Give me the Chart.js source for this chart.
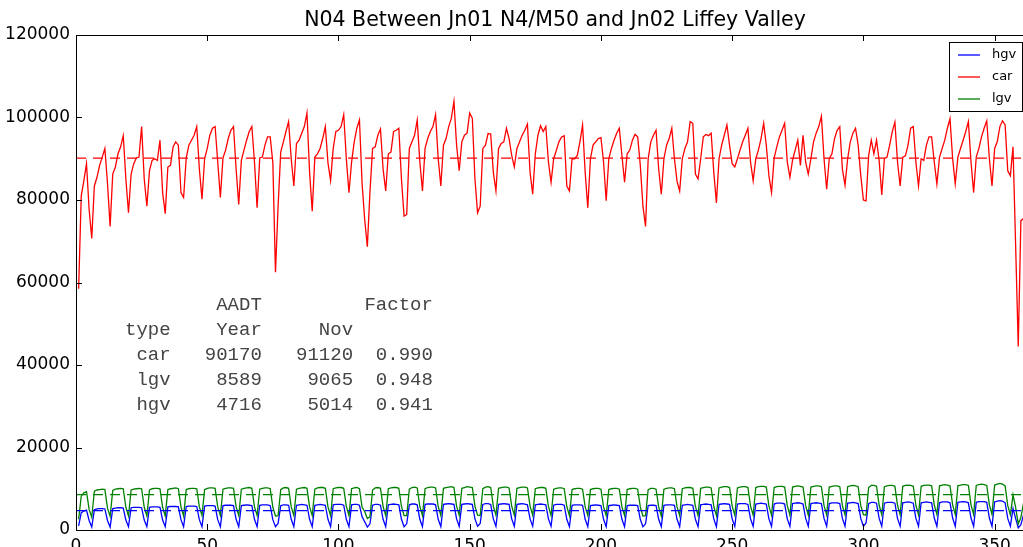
<!DOCTYPE html>
<html>
<head>
<meta charset="utf-8">
<script src="https://cdn.jsdelivr.net/npm/chart.js@4.4.1/dist/chart.umd.min.js"></script>
<style>
  html, body { margin: 0; padding: 0; background: #fff; overflow: hidden; }
  #wrap { width: 1050px; height: 560px; }
</style>
</head>
<body>
<div id="wrap"><canvas id="chart" width="1050" height="560"></canvas></div>
<script>
const chartTitle = 'N04 Between Jn01 N4/M50 and Jn02 Liffey Valley';

// tick labels
const xTicks = [0, 50, 100, 150, 200, 250, 300, 350];
const yTicks = [0, 20000, 40000, 60000, 80000, 100000, 120000];
const xMax = 365;

// AADT table (rows: car, lgv, hgv)
const tableTypes = ['car', 'lgv', 'hgv'];
const aadtYear = [90170, 8589, 4716];
const aadtNov = [91120, 9065, 5014];
const factor = [0.990, 0.948, 0.941];

// daily counts, day 1 = Tue 1 Jan; rows after the first are Mon..Sun weeks
const car = [
  58500, 81000, 84700, 88800, 77700, 70700,
  83400, 85500, 88400, 90400, 92500, 84000, 73600,
  86300, 88000, 91200, 92900, 95600, 85100, 76900,
  86300, 88800, 90200, 90400, 97800, 85100, 78500,
  87100, 89600, 90000, 89600, 94500, 81800, 76700,
  88000, 88400, 92900, 94100, 93300, 81800, 80600,
  90200, 93300, 94500, 95700, 97800, 87500, 80200,
  90000, 92500, 95700, 97400, 97800, 89200, 80600,
  90200, 92100, 94900, 96900, 97800, 87500, 78900,
  89600, 92100, 94500, 96600, 97800, 89200, 78100,
  90200, 90400, 93300, 95300, 95300, 89000, 62500,
  78500, 91600, 94100, 96600, 99000, 90000, 83400,
  93700, 94500, 96200, 97800, 101100, 86700, 77300,
  90400, 91200, 92500, 94900, 97800, 89000, 84700,
  92500, 96600, 96900, 97800, 100700, 90000, 81800,
  89200, 94100, 97400, 99400, 84000, 75200, 68700,
  82000, 92500, 92900, 95700, 97200, 87500, 82200,
  91200, 91600, 96600, 96900, 97400, 85100, 76100,
  76500, 92500, 94100, 95700, 99400, 89200, 82200,
  92500, 94900, 96600, 97800, 100700, 90000, 83400,
  93300, 94900, 97800, 99800, 103900, 93300, 87100,
  94100, 95700, 96200, 101100, 99800, 85100, 76900,
  78500, 92500, 93300, 96100, 96000, 86700, 82200,
  92500, 93700, 94100, 97400, 94900, 90800, 88000,
  92500, 94100, 95700, 96900, 98400, 86700, 81400,
  91200, 95700, 98000, 96600, 97800, 89200, 84300,
  90000, 92000, 94100, 95300, 95600, 83400, 82200,
  90000, 90000, 90800, 94100, 98200, 86700, 78100,
  90000, 93300, 94100, 94900, 95100, 89200, 79800,
  90000, 92500, 94500, 96200, 97400, 90800, 84300,
  91200, 92100, 94500, 95900, 95300, 88400, 78500,
  73600, 90000, 94100, 95700, 96900, 87500, 81400,
  90000, 93300, 94900, 97400, 90000, 84500, 82200,
  90000, 92500, 94100, 99000, 98600, 86300, 85100,
  90000, 95300, 95900, 95600, 96200, 86700, 79300,
  90000, 93300, 95700, 98200, 93300, 88800, 88000,
  90000, 92100, 94100, 95700, 97400, 89200, 84700,
  90000, 92100, 94900, 98600, 93300, 85900, 81800,
  90200, 92900, 95300, 96900, 98600, 89200, 85500,
  89600, 92100, 94500, 88400, 95700, 89200, 86300,
  90000, 94100, 96200, 97800, 100300, 90000, 82600,
  90000, 91200, 94900, 96900, 97800, 87500, 83600,
  90000, 94100, 96200, 97400, 93300, 85900, 80000,
  79800, 90800, 94500, 91200, 94500, 89600, 81200,
  90000, 90400, 93300, 96600, 98900, 89200, 83400,
  90400, 90700, 93300, 97400, 97800, 89200, 83400,
  90000, 89600, 93300, 95300, 95300, 89200, 83900,
  90400, 92500, 94500, 97400, 99700, 90000, 83900,
  90400, 92500, 94500, 96600, 99000, 89200, 81800,
  90400, 92500, 95300, 97400, 99200, 90000, 83400,
  92500, 94100, 97800, 99200, 98200, 87100, 85900,
  92900, 69000, 44500, 75000, 75500, 70000, 66000,
  74000, 71000
];

const hgv = [
  1000, 4200, 4600, 4800, 2300, 700,
  4900, 5100, 5200, 5200, 5100, 2300, 700,
  5200, 5300, 5400, 5400, 5300, 2400, 800,
  5400, 5500, 5500, 5500, 5400, 2400, 800,
  5500, 5600, 5600, 5600, 5500, 2400, 800,
  5600, 5700, 5700, 5700, 5600, 2500, 800,
  5700, 5800, 5800, 5800, 5700, 2500, 800,
  5800, 5900, 5900, 5900, 5800, 2500, 800,
  5900, 6000, 6000, 6000, 5900, 2600, 800,
  5900, 6000, 6100, 6000, 5900, 2600, 800,
  6000, 6100, 6100, 6100, 5900, 2500, 800,
  1600, 5900, 6100, 6100, 6000, 2600, 800,
  6000, 6100, 6200, 6100, 6000, 2600, 800,
  6000, 6100, 6200, 6100, 6000, 2600, 800,
  6100, 6200, 6200, 6200, 6000, 2600, 800,
  6100, 6200, 6200, 6000, 3200, 2000, 700,
  1500, 6000, 6200, 6200, 6000, 2600, 800,
  6100, 6200, 6300, 6200, 6100, 2600, 800,
  1500, 6100, 6300, 6300, 6100, 2600, 800,
  6200, 6300, 6300, 6300, 6100, 2600, 800,
  6200, 6300, 6400, 6300, 6200, 2700, 900,
  6200, 6300, 6400, 6300, 6200, 2700, 900,
  1600, 6200, 6400, 6400, 6200, 2700, 900,
  6200, 6300, 6400, 6300, 6200, 2700, 900,
  6200, 6300, 6400, 6300, 6100, 2700, 900,
  6100, 6200, 6300, 6200, 6100, 2700, 900,
  6000, 6200, 6200, 6200, 6000, 2600, 800,
  6000, 6100, 6100, 6100, 6000, 2600, 800,
  5900, 6000, 6100, 6000, 5900, 2600, 800,
  5900, 6000, 6100, 6000, 5900, 2600, 800,
  5900, 6000, 6000, 6000, 5900, 2600, 800,
  1500, 5900, 6000, 6000, 5900, 2600, 800,
  6000, 6100, 6100, 6100, 6000, 2600, 800,
  6000, 6100, 6200, 6100, 6000, 2600, 800,
  6100, 6200, 6300, 6200, 6100, 2700, 800,
  6200, 6300, 6400, 6300, 6200, 2700, 900,
  6300, 6400, 6400, 6400, 6200, 2700, 900,
  6300, 6400, 6500, 6400, 6300, 2700, 900,
  6300, 6500, 6500, 6500, 6300, 2700, 900,
  6400, 6500, 6600, 6500, 6300, 2800, 900,
  6400, 6500, 6600, 6500, 6400, 2800, 900,
  6400, 6600, 6600, 6600, 6400, 2800, 900,
  6500, 6600, 6700, 6600, 6400, 2800, 900,
  1700, 6400, 6700, 6700, 6500, 2800, 900,
  6500, 6700, 6700, 6700, 6500, 2800, 900,
  6600, 6700, 6800, 6700, 6500, 2800, 900,
  6600, 6700, 6800, 6700, 6600, 2900, 900,
  6600, 6800, 6800, 6800, 6600, 2900, 900,
  6700, 6800, 6900, 6800, 6600, 2900, 900,
  6700, 6900, 6900, 6900, 6700, 2900, 900,
  6800, 7000, 7100, 7000, 6600, 2800, 900,
  5200, 2800, 500, 1300, 3600, 1800, 700,
  3800, 2800
];

const lgv = [
  2600, 8200, 9000, 9300, 5000, 3100,
  9400, 9700, 9800, 9900, 9800, 5300, 3300,
  9600, 9900, 10000, 10100, 10000, 5500, 3400,
  9700, 9900, 10000, 10100, 10000, 5500, 3400,
  9700, 10000, 10100, 10100, 10000, 5500, 3400,
  9800, 10000, 10100, 10200, 10000, 5600, 3400,
  9800, 10000, 10100, 10100, 10000, 5600, 3500,
  9800, 10100, 10200, 10200, 10100, 5600, 3500,
  9900, 10100, 10200, 10200, 10100, 5600, 3500,
  9900, 10100, 10200, 10300, 10100, 5600, 3500,
  9900, 10100, 10200, 10200, 10000, 5500, 3400,
  3500, 9800, 10200, 10300, 10100, 5600, 3500,
  9900, 10100, 10200, 10300, 10100, 5600, 3500,
  9900, 10200, 10300, 10300, 10100, 5600, 3500,
  10000, 10200, 10300, 10300, 10100, 5700, 3500,
  10000, 10200, 10300, 10000, 5500, 4500, 2800,
  3200, 9700, 10200, 10300, 10100, 5700, 3500,
  10000, 10200, 10300, 10300, 10100, 5700, 3500,
  3500, 9900, 10300, 10400, 10200, 5700, 3500,
  10000, 10300, 10400, 10400, 10200, 5700, 3500,
  10100, 10300, 10400, 10500, 10300, 5800, 3600,
  10100, 10300, 10500, 10400, 10300, 5800, 3600,
  3500, 10000, 10400, 10500, 10300, 5800, 3600,
  10100, 10300, 10400, 10400, 10200, 5800, 3600,
  10100, 10300, 10400, 10400, 10200, 5800, 3600,
  10000, 10200, 10300, 10300, 10100, 5700, 3500,
  9900, 10100, 10200, 10200, 10000, 5700, 3500,
  9800, 10000, 10100, 10100, 9900, 5600, 3500,
  9800, 10000, 10100, 10100, 9900, 5600, 3500,
  9800, 10000, 10100, 10100, 9900, 5600, 3500,
  9800, 10000, 10100, 10100, 9900, 5600, 3400,
  3500, 9800, 10100, 10100, 9900, 5600, 3400,
  9900, 10100, 10200, 10200, 10000, 5600, 3500,
  10000, 10200, 10300, 10300, 10100, 5700, 3500,
  10100, 10300, 10400, 10400, 10200, 5700, 3500,
  10200, 10400, 10500, 10500, 10300, 5800, 3600,
  10200, 10400, 10500, 10500, 10300, 5800, 3600,
  10300, 10500, 10600, 10600, 10400, 5800, 3600,
  10300, 10500, 10600, 10600, 10400, 5900, 3600,
  10400, 10600, 10700, 10600, 10400, 5900, 3600,
  10400, 10600, 10700, 10700, 10500, 5900, 3700,
  10400, 10600, 10700, 10700, 10500, 5900, 3700,
  10500, 10700, 10800, 10700, 10500, 5900, 3700,
  3600, 10300, 10800, 10800, 10600, 6000, 3700,
  10500, 10700, 10800, 10800, 10600, 6000, 3700,
  10600, 10800, 10900, 10800, 10600, 6000, 3700,
  10600, 10800, 10900, 10900, 10700, 6100, 3800,
  10700, 10900, 11000, 10900, 10700, 6100, 3800,
  10700, 10900, 11000, 11000, 10800, 6100, 3800,
  10800, 11000, 11100, 11000, 10800, 6100, 3800,
  10900, 11100, 11300, 11100, 10700, 5900, 3700,
  8500, 5500, 1500, 3000, 6500, 4000, 2800,
  6500, 5500
];

const seriesNames = ['hgv', 'car', 'lgv'];
const seriesColors = ['#0000ff', '#ff0000', '#008000'];
const seriesData = [hgv, car, lgv];
const seriesMean = [aadtYear[2], aadtYear[0], aadtYear[1]];

function toPoints(arr) {
  return arr.map(function (v, i) { return { x: i + 1, y: v }; });
}

var datasets = [];
for (var i = 0; i < seriesNames.length; i++) {
  datasets.push({
    label: seriesNames[i],
    data: toPoints(seriesData[i]),
    borderColor: seriesColors[i],
    borderWidth: 1.3,
    pointRadius: 0,
    tension: 0,
    order: 10 - i,
    inLegend: true
  });
  datasets.push({
    label: seriesNames[i] + ' AADT',
    data: [{ x: 0, y: seriesMean[i] }, { x: xMax, y: seriesMean[i] }],
    borderColor: seriesColors[i],
    borderWidth: 1.3,
    borderDash: [10, 7],
    pointRadius: 0,
    order: 1,
    inLegend: false
  });
}

const tickFont = { family: 'DejaVu Sans', size: 17 };

// matplotlib-like frame: box with inward ticks on all sides
const frame = {
  id: 'frame',
  afterDatasetsDraw(chart) {
    const ctx = chart.ctx, a = chart.chartArea;
    const xs = chart.scales.x, ys = chart.scales.y;
    ctx.save();
    ctx.strokeStyle = '#000';
    ctx.lineWidth = 1;
    ctx.strokeRect(a.left + 0.5, a.top + 0.5, a.right - a.left, a.bottom - a.top);
    ctx.beginPath();
    xTicks.forEach(function (v) {
      const px = Math.round(xs.getPixelForValue(v)) + 0.5;
      ctx.moveTo(px, a.bottom); ctx.lineTo(px, a.bottom - 6);
      ctx.moveTo(px, a.top); ctx.lineTo(px, a.top + 6);
    });
    yTicks.forEach(function (v) {
      const py = Math.round(ys.getPixelForValue(v)) + 0.5;
      ctx.moveTo(a.left, py); ctx.lineTo(a.left + 6, py);
      ctx.moveTo(a.right, py); ctx.lineTo(a.right - 6, py);
    });
    ctx.stroke();
    ctx.restore();
  }
};

const titleAndNotes = {
  id: 'titleAndNotes',
  afterDraw(chart) {
    const ctx = chart.ctx, a = chart.chartArea;
    ctx.save();
    // title
    ctx.fillStyle = '#000';
    ctx.font = '20.5px "DejaVu Sans"';
    ctx.textAlign = 'center';
    ctx.textBaseline = 'middle';
    ctx.fillText(chartTitle, (a.left + a.right) / 2, 21);

    // AADT table
    ctx.font = '19px "Liberation Mono"';
    ctx.fillStyle = '#444';
    ctx.textAlign = 'left';
    const lines = [
      '    ' + 'AADT'.padStart(8) + ''.padStart(8) + 'Factor'.padStart(7),
      'type' + 'Year'.padStart(8) + 'Nov'.padStart(8)
    ];
    for (let r = 0; r < tableTypes.length; r++) {
      lines.push(tableTypes[r].padStart(4) + String(aadtYear[r]).padStart(8) +
        String(aadtNov[r]).padStart(8) + factor[r].toFixed(3).padStart(7));
    }
    lines.forEach(function (s, k) {
      ctx.fillText(s, a.left + 49, 305 + k * 25);
    });

    // legend
    const items = chart.data.datasets.filter(function (d) { return d.inLegend; });
    const bw = 73, bh = 69;
    const bx = a.right - 12 - bw, by = a.top + 7;
    ctx.fillStyle = '#fff';
    ctx.fillRect(bx, by, bw, bh);
    ctx.strokeStyle = '#000';
    ctx.lineWidth = 1;
    ctx.strokeRect(bx + 0.5, by + 0.5, bw, bh);
    ctx.font = '13px "DejaVu Sans"';
    ctx.textBaseline = 'middle';
    items.forEach(function (d, k) {
      const y = by + 13 + k * 22;
      ctx.strokeStyle = d.borderColor;
      ctx.lineWidth = 1.3;
      ctx.beginPath();
      ctx.moveTo(bx + 9, y); ctx.lineTo(bx + 31, y);
      ctx.stroke();
      ctx.fillStyle = '#000';
      ctx.fillText(d.label, bx + 43, y);
    });
    ctx.restore();
  }
};

new Chart(document.getElementById('chart'), {
  type: 'line',
  data: { datasets: datasets },
  options: {
    responsive: false,
    animation: false,
    layout: { padding: { top: 35, right: 16, left: 0, bottom: 0 } },
    plugins: { legend: { display: false }, title: { display: false }, tooltip: { enabled: false } },
    scales: {
      x: {
        type: 'linear', min: 0, max: xMax,
        afterBuildTicks: function (s) { s.ticks = xTicks.map(function (v) { return { value: v }; }); },
        afterFit: function (s) { s.height = 30; },
        grid: { drawOnChartArea: false, drawTicks: false },
        border: { display: false },
        ticks: { font: tickFont, color: '#000', padding: 6, maxRotation: 0, autoSkip: false }
      },
      y: {
        type: 'linear', min: 0, max: 120000,
        afterBuildTicks: function (s) { s.ticks = yTicks.map(function (v) { return { value: v }; }); },
        afterFit: function (s) { s.width = 76; },
        grid: { drawOnChartArea: false, drawTicks: false },
        border: { display: false },
        ticks: { font: tickFont, color: '#000', padding: 6, callback: function (v) { return String(v); } }
      }
    }
  },
  plugins: [frame, titleAndNotes]
});
</script>
</body>
</html>
